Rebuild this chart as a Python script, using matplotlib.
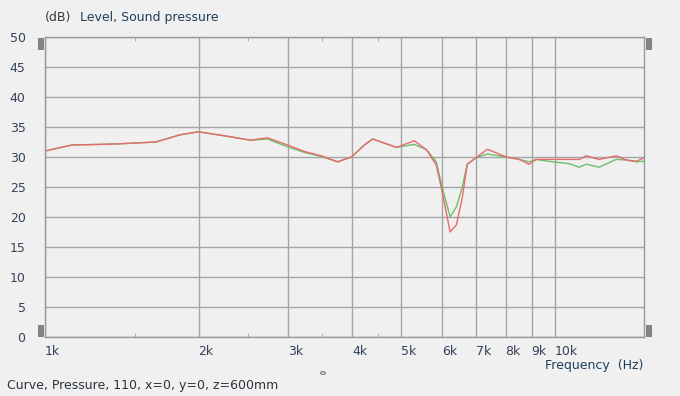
import matplotlib.pyplot as plt
import matplotlib.patches as mpatches
from matplotlib.ticker import FixedLocator, NullFormatter

# frequency points (Hz)
freq = [1000, 1130, 1280, 1400, 1650, 1840, 2000, 2260, 2530, 2730, 2990,
        3230, 3480, 3750, 3990, 4230, 4390, 4890, 5300, 5600, 5850, 6010,
        6230, 6410, 6580, 6730, 7010, 7370, 8030, 8510, 8900, 9190, 9880,
        10660, 11160, 11520, 12210, 13190, 13800, 14430, 14900]

# level in dB, red curve
red = [31.0, 32.0, 32.1, 32.2, 32.5, 33.7, 34.2, 33.5, 32.8, 33.2, 32.0,
       30.9, 30.2, 29.2, 30.0, 32.0, 33.0, 31.6, 32.7, 31.2, 28.7, 24.2,
       17.5, 18.7, 23.2, 28.8, 29.9, 31.3, 30.0, 29.6, 28.8, 29.6, 29.6,
       29.6, 29.6, 30.2, 29.6, 30.2, 29.5, 29.3, 29.8]

# level in dB, green curve
green = [31.0, 32.0, 32.1, 32.2, 32.5, 33.7, 34.2, 33.5, 32.8, 33.0, 31.7,
         30.75, 30.1, 29.2, 30.0, 32.0, 33.0, 31.6, 32.1, 31.2, 29.2, 25.0,
         20.0, 21.7, 25.0, 28.8, 29.9, 30.5, 30.0, 29.6, 29.2, 29.6, 29.2,
         28.9, 28.3, 28.8, 28.3, 29.6, 29.5, 29.2, 29.3]

major_ticks = [1000, 2000, 3000, 4000, 5000, 6000, 7000, 8000, 9000, 10000]
major_labels = ['1k', '2k', '3k', '4k', '5k', '6k', '7k', '8k', '9k', '10k']
minor_ticks = [1500, 2500, 3500, 4500]
y_ticks = list(range(0, 51, 5))

bg = '#f0f0f0'
grid_c = '#a4a4a4'
txt_c = '#33425a'

fig = plt.figure(figsize=(6.8, 3.96), dpi=100, facecolor=bg)
ax = fig.add_axes([45 / 680, 59 / 396, 599 / 680, 300 / 396], facecolor=bg)

ax.plot(freq, green, color='#6cbf6c', lw=1.0)
ax.plot(freq, red, color='#e86a6a', lw=1.0)

ax.set_xscale('log')
ax.set_xlim(1000, 14950)
ax.set_ylim(0, 50)

ax.xaxis.set_major_locator(FixedLocator(major_ticks))
ax.xaxis.set_minor_locator(FixedLocator(minor_ticks))
ax.xaxis.set_minor_formatter(NullFormatter())
ax.set_xticklabels(major_labels)
ax.set_yticks(y_ticks)

ax.grid(True, which='major', color=grid_c, lw=1.0)
ax.tick_params(axis='x', which='major', length=0, pad=6, labelsize=9, labelcolor=txt_c)
ax.tick_params(axis='x', which='minor', direction='in', length=3, color=grid_c,
               top=True, bottom=True)
ax.tick_params(axis='y', length=0, pad=14, labelsize=9, labelcolor=txt_c)
for lbl in ax.get_xticklabels():
    lbl.set_horizontalalignment('left')

for s in ax.spines.values():
    s.set_color('#999999')
    s.set_linewidth(1.0)

# header, axis name and footer
fig.text(45 / 680, 1 - 17 / 396, '(dB)', color='#3a3a3a', fontsize=9, va='center')
fig.text(80 / 680, 1 - 17 / 396, 'Level, Sound pressure', color='#1f3f5a',
         fontsize=9, va='center')
fig.text(643 / 680, 1 - 365 / 396, 'Frequency  (Hz)', color='#1f3f5a',
         fontsize=9, va='center', ha='right')
fig.text(7 / 680, 1 - 385 / 396, 'Curve, Pressure, 110, x=0, y=0, z=600mm',
         color='#2a3440', fontsize=9, va='center')
fig.patches.append(mpatches.Circle((323 / 680, 1 - 373 / 396), 0.0035,
                                   transform=fig.transFigure, fill=False,
                                   ec='#777777', lw=0.8))

# little grey handles at the corners
for (hx, hy) in [(38, 38), (38, 325), (646, 38), (646, 325)]:
    fig.patches.append(mpatches.Rectangle((hx / 680, 1 - (hy + 11) / 396), 5 / 680, 11 / 396,
                                          transform=fig.transFigure,
                                          fc='#858585', ec='#666666', lw=0.5))

plt.savefig('out.png', dpi=100, facecolor=bg)
